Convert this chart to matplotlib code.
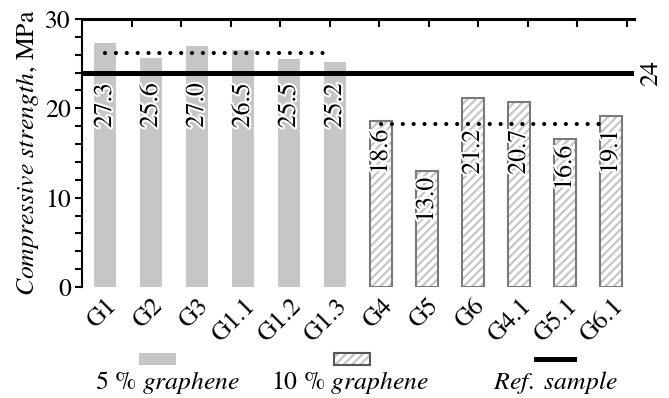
import matplotlib
matplotlib.use("Agg")
import matplotlib.pyplot as plt
import matplotlib.patheffects as pe
from matplotlib.patches import Rectangle
from matplotlib.lines import Line2D
import numpy as np

SERIF = "TeX Gyre Termes"
plt.rcParams['font.family'] = [SERIF, 'Liberation Serif', 'DejaVu Serif']
plt.rcParams['mathtext.fontset'] = 'custom'
plt.rcParams['mathtext.rm'] = SERIF
plt.rcParams['mathtext.it'] = SERIF + ':italic'
plt.rcParams['mathtext.bf'] = SERIF + ':bold'
plt.rcParams['hatch.linewidth'] = 1.6

# ---- data ----
categories_5 = ["G1", "G2", "G3", "G1.1", "G1.2", "G1.3"]
values_5 = [27.3, 25.6, 27.0, 26.5, 25.5, 25.2]
categories_10 = ["G4", "G5", "G6", "G4.1", "G5.1", "G6.1"]
values_10 = [18.6, 13.0, 21.2, 20.7, 16.6, 19.1]
ref_value = 24
legend_labels = [r"5 % $\mathit{graphene}$", r"10 % $\mathit{graphene}$", r"$\mathit{Ref.\ sample}$"]
ylabel = r"$\mathit{Compressive\ strength}$, MPa"

FS = 18.5
GRAY = "#c6c6c6"
EDGE = "#7a7a7a"

fig = plt.figure(figsize=(6.69, 3.98), dpi=100)
ax = fig.add_axes([82/669, 1-287/398, (634-82)/669, (287-19)/398])

n5 = len(values_5)
x5 = np.arange(n5)
x10 = np.arange(len(values_10)) + n5
W = 0.48

ax.bar(x5, values_5, width=W, color=GRAY, linewidth=0, zorder=2)
ax.bar(x10, values_10, width=W, color="white", edgecolor=GRAY, hatch="////", linewidth=0, zorder=2)
ax.bar(x10, values_10, width=W, fill=False, edgecolor=EDGE, linewidth=1.5, zorder=3)

stroke = [pe.withStroke(linewidth=3, foreground="white")]
for xi, v in zip(x5, values_5):
    ax.text(xi, 20.3, f"{v:.1f}", rotation=90, ha="center", va="center",
            fontsize=FS, zorder=6, path_effects=stroke)
for xi, v in zip(x10, values_10):
    ax.text(xi, min(v - 3.3, 15.1), f"{v:.1f}", rotation=90, ha="center", va="center",
            fontsize=FS, zorder=6, path_effects=stroke)

# mean dotted lines
m5 = np.mean(values_5)
m10 = np.mean(values_10)
dot = dict(color="black", linewidth=3.0, linestyle=(0, (0.01, 2.6)), dash_capstyle="round", zorder=5)
ax.plot([x5[0], x5[-1] - 0.1], [m5, m5], **dot)
ax.plot([x10[0], x10[-1] - 0.2], [m10, m10], **dot)

# reference line
ax.axhline(ref_value, color="black", linewidth=3.6, zorder=4)
ax.text(11.5 + 0.38, ref_value, str(ref_value), rotation=90, ha="center", va="center",
        fontsize=FS, clip_on=False)

ax.set_xlim(-0.5, 11.5)
ax.set_ylim(0, 30)
ax.set_xticks(np.concatenate([x5, x10]))
ax.set_xticklabels(categories_5 + categories_10, rotation=45, ha="right",
                   rotation_mode="anchor", fontsize=FS)
ax.tick_params(axis="x", length=0, pad=5)
ax.set_yticks([0, 10, 20, 30])
ax.set_yticks(np.arange(0, 31, 2), minor=True)
ax.tick_params(axis="y", which="both", direction="out", length=5, width=1.5, labelsize=FS, pad=3)

for s in ["right", "bottom"]:
    ax.spines[s].set_visible(False)
ax.spines["left"].set_linewidth(1.5)
ax.spines["top"].set_linewidth(2.2)
ax.set_ylabel(ylabel, fontsize=FS, labelpad=3)

# top ticks
axt = ax.twiny()
axt.set_xlim(0, 11.15)
axt.set_xticks(np.arange(1, 12))
axt.tick_params(axis="x", direction="in", length=6, width=1.5, labeltop=False)
for s in ["left", "right", "bottom", "top"]:
    axt.spines[s].set_visible(False)

# legend (manual)
ly_patch = 1 - 359/398
ph = 12/398
fig.patches.append(Rectangle((139/669, ly_patch - ph/2), 37/669, ph, transform=fig.transFigure,
                             facecolor=GRAY, linewidth=0))
fig.patches.append(Rectangle((334/669, ly_patch - ph/2), 36/669, ph, transform=fig.transFigure,
                             facecolor="white", edgecolor=GRAY, hatch="////", linewidth=0))
fig.patches.append(Rectangle((334/669, ly_patch - ph/2), 36/669, ph, transform=fig.transFigure,
                             fill=False, edgecolor="#555555", linewidth=1.5))
fig.lines.append(Line2D([536/669, 574/669], [ly_patch, ly_patch], transform=fig.transFigure,
                        color="black", linewidth=3.6))
ly_text = 1 - 383/398
for xc, lab in zip([168, 350, 555], legend_labels):
    fig.text(xc/669, ly_text, lab, ha="center", va="center", fontsize=FS)

fig.savefig("out.png", dpi=100)
